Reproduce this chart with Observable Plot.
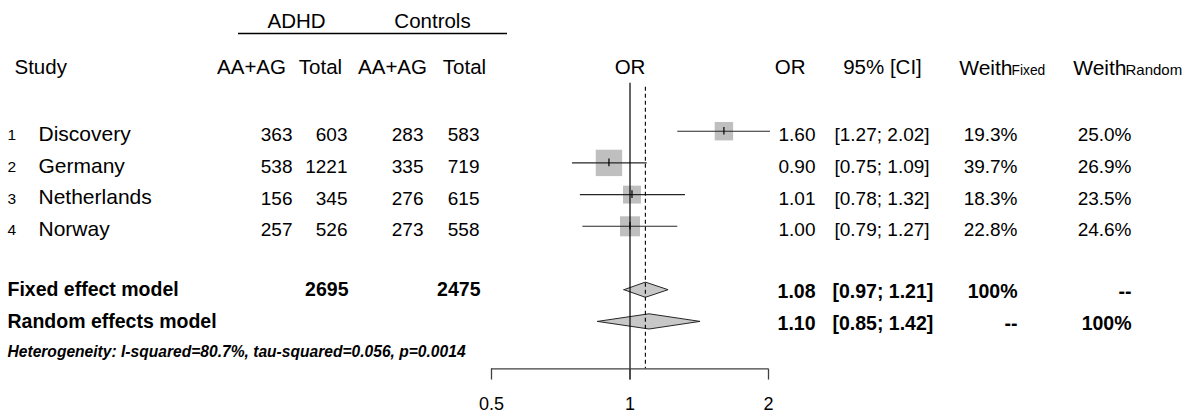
<!DOCTYPE html>
<html>
<head>
<meta charset="utf-8">
<script src="https://cdn.jsdelivr.net/npm/d3@7"></script>
<script src="https://cdn.jsdelivr.net/npm/@observablehq/plot@0.6"></script>
<style>
  html, body { margin: 0; padding: 0; background: #fff; }
  #chart { position: relative; width: 1191px; height: 418px; overflow: hidden; }
  #chart svg { position: absolute; left: 0; top: 0; background: transparent; }
</style>
</head>
<body>
<div id="chart"></div>
<script>
// ---------------- data ----------------
const studies = ["Discovery", "Germany", "Netherlands", "Norway"];
const adhdEvents = [363, 538, 156, 257];
const adhdTotal = [603, 1221, 345, 526];
const ctrlEvents = [283, 335, 276, 273];
const ctrlTotal = [583, 719, 615, 558];
const orValues = [1.60, 0.90, 1.01, 1.00];
const ciLower = [1.27, 0.75, 0.78, 0.79];
const ciUpper = [2.02, 1.09, 1.32, 1.27];
const weightFixed = [19.3, 39.7, 18.3, 22.8];
const weightRandom = [25.0, 26.9, 23.5, 24.6];

const models = ["Fixed effect model", "Random effects model"];
const modelOR = [1.08, 1.10];
const modelLower = [0.97, 0.85];
const modelUpper = [1.21, 1.42];
const modelWeightFixed = ["100%", "--"];
const modelWeightRandom = ["--", "100%"];
const totalADHD = 2695;
const totalControls = 2475;

const iSquared = "80.7%";
const tauSquared = "0.056";
const pHet = "0.0014";

const axisTicks = [0.5, 1, 2];

// ---------------- layout (positions, not data) ----------------
const W = 1191, H = 418;
const FONT = "'Liberation Sans', Arial, Helvetica, sans-serif";
// row positions (in row units)
const R = { top: -2.46, head: -1, studyStart: 1, modelStart: 6, het: 7.95, axis: 8.5, tickEnd: 8.85, tickLab: 9.6, refTop: -0.51, dashTop: -0.39, underline: -2.08 };
const yScale = { domain: [10.063, -3.123] };
// table column anchors (pixels)
const C = { rowNum: 7, name: 38, ae: 292, at: 347, ce: 423, ct: 479,
            or: 815, ci: 834, wf: 1017, wr: 1131,
            hADHD: 296, hCtrl: 432, hStudy: 14, hAe: 251, hAt: 320, hCe: 392, hCt: 464,
            hOR: 805, hCI: 882, hWeithF: 1012, hWeithR: 1126,
            ulStart: 238, ulEnd: 507 };

const rows = studies.map((s, i) => ({
  i, row: R.studyStart + i, study: s,
  ae: String(adhdEvents[i]), at: String(adhdTotal[i]),
  ce: String(ctrlEvents[i]), ct: String(ctrlTotal[i]),
  or: orValues[i], lo: ciLower[i], hi: ciUpper[i],
  orTxt: orValues[i].toFixed(2),
  ciTxt: "[" + ciLower[i].toFixed(2) + "; " + ciUpper[i].toFixed(2) + "]",
  wf: weightFixed[i], wfTxt: weightFixed[i].toFixed(1) + "%",
  wrTxt: weightRandom[i].toFixed(1) + "%"
}));
const mrows = models.map((m, i) => ({
  i, row: R.modelStart + i, model: m,
  or: modelOR[i], lo: modelLower[i], hi: modelUpper[i],
  orTxt: modelOR[i].toFixed(2),
  ciTxt: "[" + modelLower[i].toFixed(2) + "; " + modelUpper[i].toFixed(2) + "]",
  wfTxt: modelWeightFixed[i], wrTxt: modelWeightRandom[i]
}));
const hetText = "Heterogeneity: I-squared=" + iSquared + ", tau-squared=" + tauSquared + ", p=" + pHet;

const at = v => () => v;

// ---------------- table layer ----------------
const table = Plot.plot({
  width: W, height: H,
  marginLeft: 0, marginRight: 0, marginTop: 0, marginBottom: 0,
  x: { domain: [0, W], axis: null },
  y: { ...yScale, axis: null },
  style: { fontFamily: FONT, background: "transparent", color: "#000" },
  marks: [
    // group headers
    Plot.text([{ t: "ADHD", x: C.hADHD }, { t: "Controls", x: C.hCtrl }], { x: "x", y: at(R.top), text: "t", fontSize: 20.5, fill: "#000" }),
    Plot.ruleY([R.underline], { x1: C.ulStart, x2: C.ulEnd, stroke: "#000", strokeWidth: 1.6 }),
    // column headers
    Plot.text(["Study"], { x: at(C.hStudy), y: at(R.head), text: d => d, textAnchor: "start", fontSize: 20.5, fill: "#000" }),
    Plot.text([{ t: "AA+AG", x: C.hAe }, { t: "Total", x: C.hAt }, { t: "AA+AG", x: C.hCe }, { t: "Total", x: C.hCt }, { t: "95% [CI]", x: C.hCI }],
      { x: "x", y: at(R.head), text: "t", fontSize: 20.5, fill: "#000" }),
    Plot.text(["OR"], { x: at(C.hOR), y: at(R.head), text: d => d, textAnchor: "end", fontSize: 20.5, fill: "#000" }),
    Plot.text([{ t: "Weith", x: C.hWeithF }, { t: "Weith", x: C.hWeithR }], { x: "x", y: at(R.head), text: "t", textAnchor: "end", fontSize: 21, fill: "#000" }),
    Plot.text([{ t: "Fixed", x: C.hWeithF - 1, s: 13.8 }, { t: "Random", x: C.hWeithR - 1, s: 15 }], { x: "x", y: at(R.head), text: "t", textAnchor: "start", fontSize: "s", dy: 2.5, fill: "#000" }),
    // study rows
    Plot.text(rows, { x: at(C.rowNum), y: "row", text: d => String(d.i + 1), textAnchor: "start", fontSize: 15.5, dy: 4, fill: "#000" }),
    Plot.text(rows, { x: at(C.name), y: "row", text: "study", textAnchor: "start", fontSize: 21, dy: 3, fill: "#000" }),
    Plot.text(rows, { x: at(C.ae), y: "row", text: "ae", textAnchor: "end", fontSize: 19, dy: 4, fill: "#000" }),
    Plot.text(rows, { x: at(C.at), y: "row", text: "at", textAnchor: "end", fontSize: 19, dy: 4, fill: "#000" }),
    Plot.text(rows, { x: at(C.ce), y: "row", text: "ce", textAnchor: "end", fontSize: 19, dy: 4, fill: "#000" }),
    Plot.text(rows, { x: at(C.ct), y: "row", text: "ct", textAnchor: "end", fontSize: 19, dy: 4, fill: "#000" }),
    Plot.text(rows, { x: at(C.or), y: "row", text: "orTxt", textAnchor: "end", fontSize: 19, dy: 4, fill: "#000" }),
    Plot.text(rows, { x: at(C.ci), y: "row", text: "ciTxt", textAnchor: "start", fontSize: 19, dy: 4, fill: "#000" }),
    Plot.text(rows, { x: at(C.wf), y: "row", text: "wfTxt", textAnchor: "end", fontSize: 19, dy: 4, fill: "#000" }),
    Plot.text(rows, { x: at(C.wr), y: "row", text: "wrTxt", textAnchor: "end", fontSize: 19, dy: 4, fill: "#000" }),
    // model rows
    Plot.text(mrows, { x: at(C.rowNum), y: "row", text: "model", textAnchor: "start", fontSize: 19.5, fontWeight: "bold", fill: "#000" }),
    Plot.text([String(totalADHD)], { x: at(C.at + 1), y: at(R.modelStart), text: d => d, textAnchor: "end", fontSize: 19.5, fontWeight: "bold", fill: "#000" }),
    Plot.text([String(totalControls)], { x: at(C.ct + 1), y: at(R.modelStart), text: d => d, textAnchor: "end", fontSize: 19.5, fontWeight: "bold", fill: "#000" }),
    Plot.text(mrows, { x: at(C.or), y: "row", text: "orTxt", textAnchor: "end", fontSize: 19.5, fontWeight: "bold", dy: 2, fill: "#000" }),
    Plot.text(mrows, { x: at(C.ci - 2), y: "row", text: "ciTxt", textAnchor: "start", fontSize: 19.5, fontWeight: "bold", dy: 2, fill: "#000" }),
    Plot.text(mrows, { x: at(C.wf), y: "row", text: "wfTxt", textAnchor: "end", fontSize: 19.5, fontWeight: "bold", dy: 2, fill: "#000" }),
    Plot.text(mrows, { x: at(C.wr), y: "row", text: "wrTxt", textAnchor: "end", fontSize: 19.5, fontWeight: "bold", dy: 2, fill: "#000" }),
    // heterogeneity
    Plot.text([hetText], { x: at(C.rowNum), y: at(R.het), text: d => d, textAnchor: "start", fontSize: 15.6, fontWeight: "bold", fontStyle: "italic", fill: "#000" })
  ]
});

// ---------------- forest layer ----------------
const diamondH = 0.24;
const diamonds = mrows.flatMap(d => [
  { m: d.model, x: d.lo, y: d.row },
  { m: d.model, x: d.or, y: d.row - diamondH },
  { m: d.model, x: d.hi, y: d.row },
  { m: d.model, x: d.or, y: d.row + diamondH },
  { m: d.model, x: d.lo, y: d.row }
]);

const forest = Plot.plot({
  width: W, height: H,
  marginLeft: 491, marginRight: W - 768, marginTop: 0, marginBottom: 0,
  x: { type: "log", domain: [0.5, 2], axis: null },
  y: { ...yScale, axis: null },
  r: { type: "sqrt", domain: [0, 39.7], range: [0, 14.9] },
  style: { fontFamily: FONT, background: "transparent", color: "#000" },
  marks: [
    Plot.text(["OR"], { x: at(1), y: at(R.head), text: d => d, fontSize: 20.5, fill: "#000" }),
    Plot.dot(rows, { x: "or", y: "row", r: "wf", symbol: "square", fill: "#bfbfbf", stroke: "none" }),
    Plot.ruleY(rows, { y: "row", x1: "lo", x2: "hi", stroke: "#262626", strokeWidth: 1.1 }),
    Plot.ruleX(rows, { x: "or", y1: d => d.row - 0.12, y2: d => d.row + 0.12, stroke: "#000", strokeWidth: 1.2 }),
    Plot.line(diamonds, { x: "x", y: "y", z: "m", fill: "#c8c8c8", stroke: "#262626", strokeWidth: 1 }),
    Plot.ruleX([1], { y1: R.refTop, y2: R.tickEnd, stroke: "#000", strokeWidth: 1.2 }),
    Plot.ruleX([modelOR[0]], { y1: R.dashTop, y2: R.axis, stroke: "#000", strokeWidth: 1.1, strokeDasharray: "4,3" }),
    // axis
    Plot.ruleY([R.axis], { x1: axisTicks[0], x2: axisTicks[axisTicks.length - 1], stroke: "#404040", strokeWidth: 1.3 }),
    Plot.ruleX(axisTicks, { y1: R.axis, y2: R.tickEnd, stroke: "#404040", strokeWidth: 1.3 }),
    Plot.text(axisTicks, { x: d => d, y: at(R.tickLab), text: d => String(d), fontSize: 18, fill: "#000" })
  ]
});

const el = document.getElementById("chart");
el.appendChild(table);
el.appendChild(forest);
</script>
</body>
</html>
